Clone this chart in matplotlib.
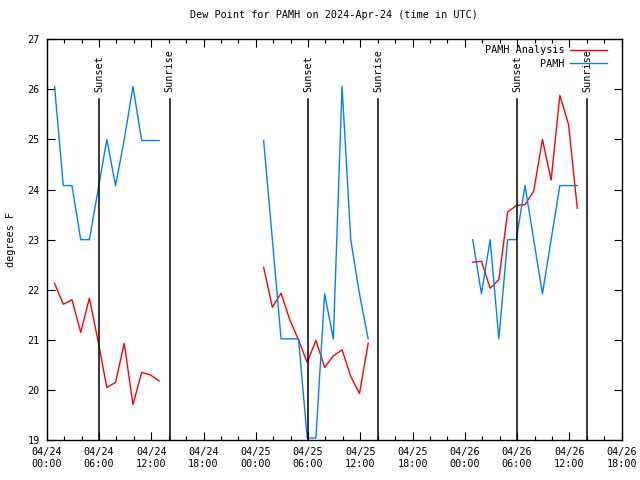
import matplotlib
matplotlib.use("Agg")
import matplotlib.pyplot as plt
import numpy as np

# hours since 2024-04-24 00:00 UTC
t1 = [0.9, 1.9, 2.9, 3.9, 4.9, 5.9, 6.9, 7.9, 8.9, 9.9, 10.9, 11.9, 12.9]
t2 = [24.9, 25.9, 26.9, 27.9, 28.9, 29.9, 30.9, 31.9, 32.9, 33.9, 34.9, 35.9, 36.9]
t3 = [48.9, 49.9, 50.9, 51.9, 52.9, 53.9, 54.9, 55.9, 56.9, 57.9, 58.9, 59.9, 60.9]

obs1 = [26.06, 24.08, 24.08, 23.0, 23.0, 24.0, 25.0, 24.08, 25.0, 26.06, 24.98, 24.98, 24.98]
obs2 = [24.98, 23.0, 21.02, 21.02, 21.02, 19.04, 19.04, 21.92, 21.02, 26.06, 23.0, 21.92, 21.02]
obs3 = [23.0, 21.92, 23.0, 21.02, 23.0, 23.0, 24.08, 23.0, 21.92, 23.0, 24.08, 24.08, 24.08]

ana1 = [22.13, 21.71, 21.8, 21.15, 21.83, 20.97, 20.05, 20.15, 20.93, 19.71, 20.35, 20.3, 20.18]
ana2 = [22.45, 21.65, 21.93, 21.4, 21.0, 20.55, 20.99, 20.45, 20.68, 20.8, 20.27, 19.93, 20.93]
ana3 = [22.55, 22.57, 22.03, 22.2, 23.55, 23.68, 23.7, 23.97, 25.0, 24.19, 25.88, 25.3, 23.63]

sunset_hours = [6.0, 30.02, 54.03]
sunrise_hours = [14.12, 38.07, 62.05]

xtick_labels = ["04/24\n00:00", "04/24\n06:00", "04/24\n12:00", "04/24\n18:00",
                "04/25\n00:00", "04/25\n06:00", "04/25\n12:00", "04/25\n18:00",
                "04/26\n00:00", "04/26\n06:00", "04/26\n12:00", "04/26\n18:00"]
yticks = [19, 20, 21, 22, 23, 24, 25, 26, 27]

plt.rcParams['font.family'] = ['DejaVu Sans Mono']
FS = 7.3

fig = plt.figure(figsize=(6.4, 4.8), dpi=100)
ax = fig.add_axes([0.073, 0.0833, 0.8984, 0.8348])

red = '#ff0000'
blue = '#0080ff'
for t, a in [(t1, ana1), (t2, ana2), (t3, ana3)]:
    ax.plot(t, a, color=red, lw=1.0, label='PAMH Analysis' if t is t1 else None)
for t, o in [(t1, obs1), (t2, obs2), (t3, obs3)]:
    ax.plot(t, o, color=blue, lw=1.0, label='PAMH' if t is t1 else None)

for h in sunset_hours:
    ax.plot([h, h], [19, 25.81], color='black', lw=1.1)
    ax.text(h, 25.95, 'Sunset', rotation=90, ha='center', va='bottom', fontsize=FS)
for h in sunrise_hours:
    ax.plot([h, h], [19, 25.81], color='black', lw=1.1)
    ax.text(h, 25.95, 'Sunrise', rotation=90, ha='center', va='bottom', fontsize=FS)

ax.set_xlim(0, 66)
ax.set_ylim(19, 27)
ax.set_xticks(np.arange(0, 67, 6))
ax.set_xticklabels(xtick_labels, fontsize=FS)
ax.set_xticks(np.arange(0, 67, 2), minor=True)
ax.set_yticks(yticks)
ax.set_yticklabels([str(v) for v in yticks], fontsize=FS)
ax.tick_params(axis='both', which='major', direction='in', length=6, width=0.8,
               top=True, right=True, pad=5)
ax.tick_params(axis='x', which='minor', direction='in', length=3, width=0.8, top=True)
for s in ax.spines.values():
    s.set_linewidth(1.0)

ax.set_ylabel('degrees F', fontsize=FS, labelpad=8)
ax.set_title('Dew Point for PAMH on 2024-Apr-24 (time in UTC)', fontsize=FS, pad=15)

leg = ax.legend(loc='upper right', fontsize=FS, frameon=False, markerfirst=False,
                handlelength=3.6, handletextpad=0.6, borderaxespad=0.2,
                labelspacing=0.35, bbox_to_anchor=(0.985, 1.0))
for txt in leg.get_texts():
    txt.set_ha('right')
leg._legend_box.align = 'right'

fig.savefig('out.png', dpi=100)
